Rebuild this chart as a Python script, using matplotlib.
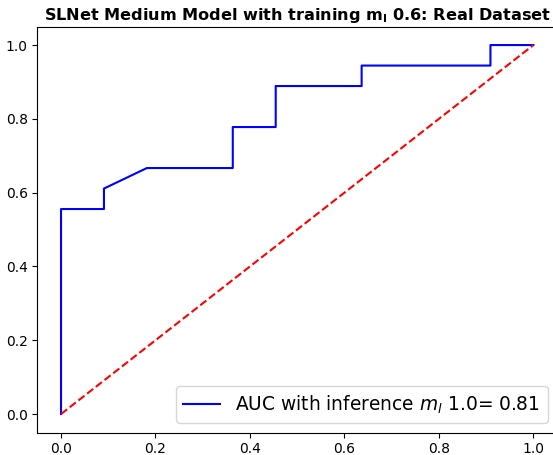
import matplotlib
matplotlib.use("Agg")
import matplotlib.pyplot as plt

fpr = [0.0, 0.0, 0.0909, 0.0909, 0.1818, 0.3636, 0.3636, 0.4545, 0.4545, 0.6364, 0.6364, 0.9091, 0.9091, 1.0]
tpr = [0.0, 0.5556, 0.5556, 0.6111, 0.6667, 0.6667, 0.7778, 0.7778, 0.8889, 0.8889, 0.9444, 0.9444, 1.0, 1.0]
auc_value = 0.81
train_ml = 0.6
infer_ml = 1.0

W, H = 553, 455
fig = plt.figure(figsize=(W / 100, H / 100), dpi=100)
left, right, top, bottom = 37.4, 557.0, 26.6, 432.5
ax = fig.add_axes([left / W, 1 - bottom / H, (right - left) / W, (bottom - top) / H])

ax.plot(fpr, tpr, color="blue", label=r"AUC with inference $m_l$ %.1f= %.2f" % (infer_ml, auc_value))
ax.plot([0, 1], [0, 1], color="red", linestyle="--")
ax.set_title(r"SLNet Medium Model with training $\mathbf{m_l}$ %.1f: Real Dataset" % train_ml,
             fontweight="bold", fontsize=11.6, pad=5)
ax.legend(loc="lower right", fontsize=13.4)

fig.savefig("out.png", dpi=100)
